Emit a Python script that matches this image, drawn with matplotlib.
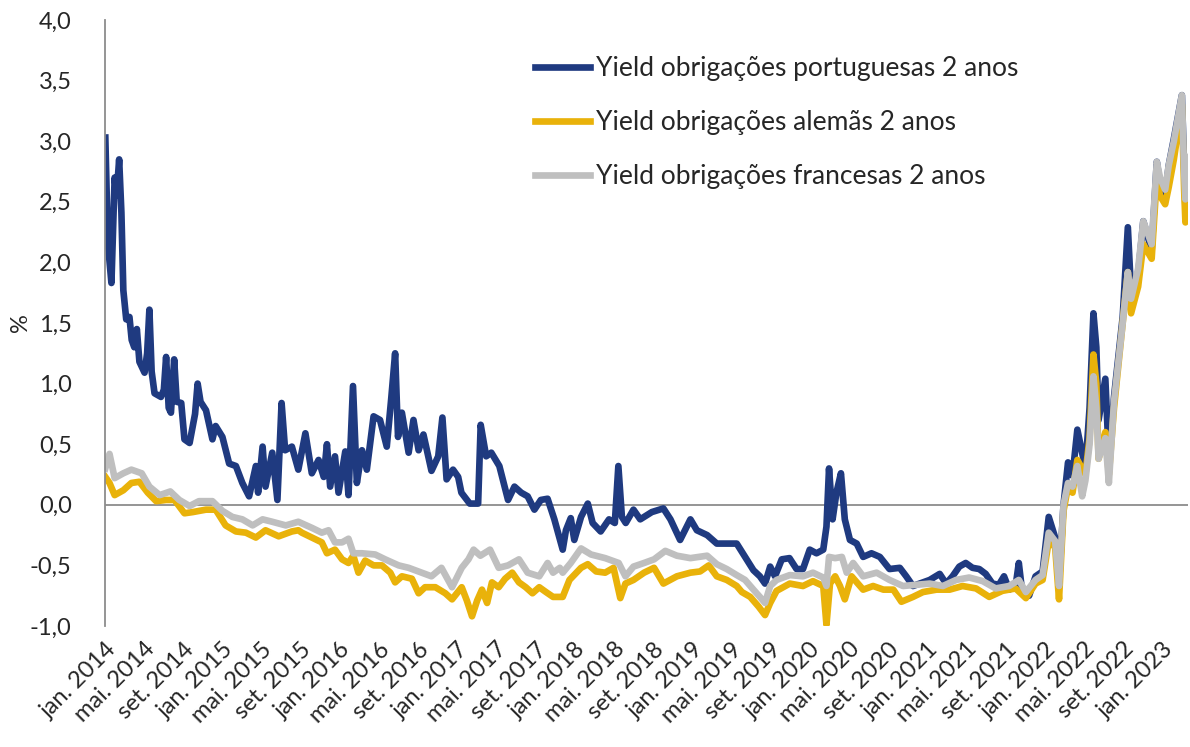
import matplotlib
matplotlib.use('Agg')
import matplotlib.pyplot as plt
from matplotlib.ticker import FuncFormatter
import pandas as pd

# Yield obrigações portuguesas 2 anos
pt_dates = ['2014-01-02', '2014-01-10', '2014-01-21', '2014-01-31', '2014-02-06', '2014-02-14', '2014-02-21',
            '2014-02-27', '2014-03-08', '2014-03-18', '2014-03-25', '2014-04-02', '2014-04-10', '2014-04-18',
            '2014-05-04', '2014-05-12', '2014-05-19', '2014-05-26', '2014-06-04', '2014-06-24', '2014-07-03',
            '2014-07-10', '2014-07-18', '2014-07-25', '2014-08-04', '2014-08-12', '2014-08-26', '2014-09-05',
            '2014-09-21', '2014-10-08', '2014-10-16', '2014-10-25', '2014-11-11', '2014-12-01', '2014-12-11',
            '2015-01-01', '2015-01-22', '2015-02-12', '2015-03-04', '2015-03-25', '2015-04-15', '2015-04-22',
            '2015-05-06', '2015-05-15', '2015-06-05', '2015-06-21', '2015-07-04', '2015-07-15', '2015-08-05',
            '2015-08-25', '2015-09-16', '2015-10-06', '2015-10-27', '2015-11-12', '2015-11-22', '2015-12-02',
            '2015-12-17', '2015-12-28', '2016-01-18', '2016-01-28', '2016-02-11', '2016-02-23', '2016-03-10',
            '2016-03-25', '2016-04-15', '2016-05-05', '2016-05-26', '2016-06-09', '2016-06-21', '2016-06-30',
            '2016-07-12', '2016-08-02', '2016-08-17', '2016-09-02', '2016-09-17', '2016-10-12', '2016-11-02',
            '2016-11-15', '2016-11-28', '2016-12-18', '2017-01-03', '2017-01-13', '2017-02-08', '2017-03-06',
            '2017-03-14', '2017-03-31', '2017-04-16', '2017-05-11', '2017-06-07', '2017-06-27', '2017-07-18',
            '2017-08-07', '2017-08-28', '2017-09-17', '2017-10-08', '2017-10-29', '2017-11-24', '2017-12-04',
            '2017-12-19', '2017-12-30', '2018-01-20', '2018-02-10', '2018-02-25', '2018-03-22', '2018-04-17',
            '2018-05-05', '2018-05-16', '2018-05-27', '2018-06-08', '2018-07-02', '2018-07-23', '2018-08-28',
            '2018-10-03', '2018-10-25', '2018-11-24', '2018-12-26', '2019-01-15', '2019-02-16', '2019-03-18',
            '2019-04-18', '2019-05-19', '2019-06-14', '2019-07-10', '2019-07-30', '2019-08-15', '2019-08-31',
            '2019-09-15', '2019-10-06', '2019-10-30', '2019-11-21', '2019-12-11', '2020-01-01', '2020-01-22',
            '2020-02-12', '2020-02-22', '2020-03-01', '2020-03-12', '2020-03-24', '2020-04-07', '2020-04-19',
            '2020-05-05', '2020-05-26', '2020-06-15', '2020-07-11', '2020-08-06', '2020-09-05', '2020-10-07',
            '2020-10-27', '2020-11-17', '2020-12-08', '2021-01-08', '2021-02-08', '2021-02-28', '2021-03-20',
            '2021-04-10', '2021-04-30', '2021-05-21', '2021-06-11', '2021-07-01', '2021-07-22', '2021-08-11',
            '2021-08-27', '2021-09-12', '2021-10-02', '2021-10-12', '2021-10-23', '2021-11-13', '2021-12-03',
            '2021-12-25', '2022-01-13', '2022-02-02', '2022-02-14', '2022-02-28', '2022-03-14', '2022-03-28',
            '2022-04-12', '2022-05-07', '2022-05-20', '2022-06-01', '2022-06-10', '2022-06-17', '2022-07-08',
            '2022-07-19', '2022-08-04', '2022-08-31', '2022-09-16', '2022-09-26', '2022-10-18', '2022-11-03',
            '2022-11-29', '2022-12-15', '2022-12-25', '2023-01-10', '2023-01-21', '2023-02-06', '2023-03-03',
            '2023-03-10', '2023-03-14', '2023-03-20']
pt_vals = [3.03, 2.16, 1.83, 2.70, 2.55, 2.85, 2.41,
           1.77, 1.53, 1.55, 1.36, 1.30, 1.45, 1.18,
           1.09, 1.25, 1.61, 1.10, 0.92, 0.89, 0.95,
           1.22, 0.80, 0.76, 1.20, 0.85, 0.84, 0.54,
           0.51, 0.75, 1.00, 0.85, 0.78, 0.54, 0.65,
           0.56, 0.34, 0.32, 0.18, 0.07, 0.32, 0.10,
           0.48, 0.15, 0.43, 0.04, 0.84, 0.45, 0.48,
           0.29, 0.59, 0.26, 0.37, 0.23, 0.50, 0.15,
           0.40, 0.10, 0.44, 0.08, 0.98, 0.18, 0.45,
           0.29, 0.73, 0.70, 0.48, 0.88, 1.25, 0.56,
           0.76, 0.43, 0.70, 0.45, 0.58, 0.28, 0.40,
           0.72, 0.21, 0.29, 0.23, 0.10, 0.01, 0.01,
           0.66, 0.40, 0.43, 0.32, 0.04, 0.15, 0.10,
           0.07, -0.04, 0.04, 0.05, -0.12, -0.37, -0.21,
           -0.11, -0.29, -0.10, 0.01, -0.15, -0.22, -0.12,
           -0.15, 0.32, -0.10, -0.15, -0.04, -0.12, -0.06,
           -0.03, -0.12, -0.29, -0.12, -0.21, -0.25, -0.32,
           -0.32, -0.32, -0.43, -0.54, -0.59, -0.65, -0.51,
           -0.59, -0.45, -0.44, -0.53, -0.53, -0.37, -0.40,
           -0.37, -0.18, 0.30, -0.12, 0.10, 0.26, -0.12,
           -0.29, -0.32, -0.43, -0.40, -0.43, -0.53, -0.52,
           -0.59, -0.67, -0.65, -0.62, -0.57, -0.65, -0.59,
           -0.51, -0.48, -0.52, -0.53, -0.57, -0.65, -0.66,
           -0.59, -0.70, -0.67, -0.48, -0.73, -0.75, -0.59,
           -0.55, -0.10, -0.27, -0.65, 0.00, 0.35, 0.24,
           0.62, 0.30, 0.80, 1.58, 1.30, 0.70, 1.04,
           0.38, 0.89, 1.55, 2.29, 1.75, 1.90, 2.34,
           2.10, 2.83, 2.65, 2.55, 2.80, 3.02, 3.38,
           2.80, 2.45, 2.75]

# Yield obrigações alemãs 2 anos
de_dates = ['2014-01-02', '2014-01-15', '2014-01-31', '2014-02-27', '2014-03-24', '2014-04-18', '2014-05-14',
            '2014-06-09', '2014-07-10', '2014-08-05', '2014-09-05', '2014-10-01', '2014-11-11', '2014-12-11',
            '2015-01-11', '2015-02-12', '2015-03-15', '2015-04-15', '2015-05-15', '2015-06-25', '2015-08-05',
            '2015-08-25', '2015-09-05', '2015-10-06', '2015-11-06', '2015-11-22', '2015-12-17', '2016-01-08',
            '2016-01-28', '2016-02-12', '2016-02-28', '2016-03-20', '2016-04-15', '2016-05-11', '2016-06-06',
            '2016-06-21', '2016-07-12', '2016-08-12', '2016-09-02', '2016-09-22', '2016-10-24', '2016-11-24',
            '2016-12-15', '2017-01-14', '2017-01-30', '2017-02-15', '2017-03-03', '2017-03-18', '2017-04-03',
            '2017-04-18', '2017-05-09', '2017-05-29', '2017-06-20', '2017-07-11', '2017-08-01', '2017-08-22',
            '2017-09-12', '2017-10-03', '2017-10-25', '2017-11-24', '2017-12-15', '2018-01-20', '2018-02-10',
            '2018-03-08', '2018-04-05', '2018-05-01', '2018-05-22', '2018-06-07', '2018-07-02', '2018-08-04',
            '2018-09-04', '2018-10-03', '2018-11-14', '2018-12-26', '2019-01-25', '2019-02-21', '2019-03-18',
            '2019-04-18', '2019-05-19', '2019-06-04', '2019-06-30', '2019-07-26', '2019-08-15', '2019-08-31',
            '2019-09-20', '2019-10-31', '2019-12-11', '2020-01-11', '2020-02-12', '2020-02-22', '2020-03-04',
            '2020-03-20', '2020-04-04', '2020-04-19', '2020-05-10', '2020-06-15', '2020-07-16', '2020-08-17',
            '2020-09-17', '2020-10-12', '2020-11-17', '2020-12-18', '2021-01-29', '2021-03-11', '2021-04-20',
            '2021-06-01', '2021-07-12', '2021-08-22', '2021-10-02', '2021-11-03', '2021-12-03', '2021-12-25',
            '2022-01-13', '2022-02-02', '2022-02-14', '2022-02-28', '2022-03-14', '2022-03-28', '2022-04-12',
            '2022-05-07', '2022-05-20', '2022-06-01', '2022-06-10', '2022-06-17', '2022-07-08', '2022-07-19',
            '2022-08-04', '2022-08-31', '2022-09-16', '2022-09-26', '2022-10-18', '2022-11-03', '2022-11-29',
            '2022-12-15', '2022-12-25', '2023-01-10', '2023-01-21', '2023-02-06', '2023-03-03', '2023-03-10',
            '2023-03-14', '2023-03-20']
de_vals = [0.23, 0.18, 0.08, 0.12, 0.18, 0.19, 0.10,
           0.03, 0.04, 0.04, -0.07, -0.06, -0.04, -0.04,
           -0.17, -0.22, -0.23, -0.27, -0.21, -0.26, -0.22,
           -0.21, -0.23, -0.27, -0.31, -0.40, -0.37, -0.45,
           -0.48, -0.42, -0.56, -0.46, -0.50, -0.50, -0.56,
           -0.64, -0.59, -0.61, -0.73, -0.68, -0.68, -0.73,
           -0.78, -0.68, -0.79, -0.92, -0.79, -0.70, -0.81,
           -0.64, -0.68, -0.61, -0.56, -0.64, -0.68, -0.73,
           -0.68, -0.72, -0.76, -0.76, -0.62, -0.52, -0.49,
           -0.55, -0.56, -0.52, -0.77, -0.65, -0.62, -0.56,
           -0.52, -0.65, -0.59, -0.56, -0.55, -0.50, -0.59,
           -0.62, -0.67, -0.72, -0.76, -0.84, -0.91, -0.81,
           -0.71, -0.65, -0.67, -0.63, -0.67, -0.99, -0.65,
           -0.59, -0.67, -0.78, -0.59, -0.70, -0.67, -0.70,
           -0.70, -0.80, -0.76, -0.72, -0.70, -0.70, -0.67,
           -0.69, -0.76, -0.71, -0.69, -0.77, -0.65, -0.62,
           -0.30, -0.35, -0.78, -0.05, 0.15, 0.10, 0.37,
           0.25, 0.55, 1.24, 1.00, 0.38, 0.60, 0.25,
           0.80, 1.50, 1.92, 1.58, 1.80, 2.15, 2.03,
           2.70, 2.55, 2.48, 2.62, 2.85, 3.30, 2.60,
           2.33, 2.45]

# Yield obrigações francesas 2 anos
fr_dates = ['2014-01-02', '2014-01-15', '2014-01-31', '2014-02-27', '2014-03-24', '2014-04-25', '2014-05-19',
            '2014-06-20', '2014-07-23', '2014-08-20', '2014-09-21', '2014-10-20', '2014-12-01', '2015-01-01',
            '2015-02-01', '2015-03-04', '2015-04-05', '2015-05-06', '2015-06-05', '2015-07-17', '2015-08-25',
            '2015-10-06', '2015-11-06', '2015-11-27', '2015-12-17', '2016-01-08', '2016-01-28', '2016-02-12',
            '2016-03-10', '2016-04-20', '2016-05-21', '2016-07-02', '2016-08-02', '2016-09-12', '2016-10-12',
            '2016-11-12', '2016-12-15', '2017-01-14', '2017-02-04', '2017-02-20', '2017-03-13', '2017-04-12',
            '2017-05-09', '2017-06-07', '2017-07-11', '2017-08-07', '2017-09-12', '2017-10-08', '2017-10-25',
            '2017-11-15', '2017-11-24', '2017-12-19', '2018-01-20', '2018-02-20', '2018-04-05', '2018-05-17',
            '2018-06-07', '2018-07-02', '2018-08-04', '2018-09-04', '2018-10-09', '2018-11-14', '2018-12-26',
            '2019-02-16', '2019-03-18', '2019-04-18', '2019-05-19', '2019-06-14', '2019-07-10', '2019-07-30',
            '2019-08-15', '2019-08-31', '2019-09-20', '2019-10-31', '2019-12-11', '2020-01-11', '2020-02-12',
            '2020-02-22', '2020-03-01', '2020-03-20', '2020-04-10', '2020-04-25', '2020-05-15', '2020-06-15',
            '2020-07-27', '2020-09-05', '2020-10-17', '2020-11-28', '2021-01-08', '2021-02-18', '2021-03-31',
            '2021-05-11', '2021-06-22', '2021-08-01', '2021-09-12', '2021-10-12', '2021-11-03', '2021-12-03',
            '2021-12-25', '2022-01-13', '2022-02-02', '2022-02-14', '2022-02-28', '2022-03-14', '2022-03-28',
            '2022-04-12', '2022-04-27', '2022-05-07', '2022-05-20', '2022-06-01', '2022-06-10', '2022-06-17',
            '2022-07-08', '2022-07-19', '2022-08-04', '2022-08-31', '2022-09-16', '2022-09-26', '2022-10-18',
            '2022-11-03', '2022-11-29', '2022-12-15', '2022-12-25', '2023-01-10', '2023-01-21', '2023-02-06',
            '2023-03-03', '2023-03-10', '2023-03-14', '2023-03-20']
fr_vals = [0.30, 0.42, 0.22, 0.26, 0.29, 0.26, 0.15,
           0.08, 0.11, 0.04, -0.01, 0.03, 0.03, -0.05,
           -0.10, -0.12, -0.17, -0.12, -0.14, -0.17, -0.14,
           -0.19, -0.23, -0.21, -0.31, -0.31, -0.28, -0.40,
           -0.40, -0.41, -0.45, -0.50, -0.52, -0.56, -0.59,
           -0.52, -0.68, -0.52, -0.45, -0.37, -0.42, -0.37,
           -0.52, -0.50, -0.45, -0.56, -0.59, -0.48, -0.56,
           -0.52, -0.56, -0.48, -0.36, -0.41, -0.44, -0.48,
           -0.59, -0.51, -0.48, -0.45, -0.38, -0.42, -0.44,
           -0.42, -0.49, -0.53, -0.58, -0.62, -0.70, -0.76,
           -0.81, -0.67, -0.62, -0.58, -0.59, -0.56, -0.60,
           -0.67, -0.43, -0.44, -0.43, -0.56, -0.48, -0.59,
           -0.56, -0.62, -0.67, -0.66, -0.65, -0.67, -0.62,
           -0.60, -0.63, -0.69, -0.67, -0.62, -0.72, -0.62,
           -0.58, -0.23, -0.30, -0.67, 0.00, 0.18, 0.15,
           0.32, 0.07, 0.20, 0.50, 1.06, 0.80, 0.38,
           0.55, 0.18, 0.85, 1.50, 1.92, 1.70, 1.95,
           2.34, 2.15, 2.83, 2.70, 2.60, 2.80, 3.00,
           3.38, 2.75, 2.52, 2.87]

labels = ['Yield obrigações portuguesas 2 anos', 'Yield obrigações alemãs 2 anos',
          'Yield obrigações francesas 2 anos']
colors = ['#1F3A80', '#E9B20A', '#BFBFBF']
month_names = {1: 'jan.', 5: 'mai.', 9: 'set.'}

plt.rcParams['font.family'] = ['Lato', 'DejaVu Sans']
text_color = '#262626'

fig = plt.figure(figsize=(11.9, 7.47), dpi=100)
ax = fig.add_axes([105 / 1190, 1 - 626 / 747, 1083 / 1190, 606 / 747])

series = [(pt_dates, pt_vals), (de_dates, de_vals), (fr_dates, fr_vals)]
for (d, v), lab, c in zip(series, labels, colors):
    ax.plot(pd.to_datetime(d), v, color=c, lw=4.8, label=lab, solid_joinstyle='round')

ax.axhline(0, color='#8C8C8C', lw=1.3, zorder=0)
ax.set_ylim(-1.0, 4.0)
ax.set_xlim(pd.Timestamp('2014-01-01'), pd.Timestamp('2023-03-22'))
ax.set_yticks([-1.0, -0.5, 0.0, 0.5, 1.0, 1.5, 2.0, 2.5, 3.0, 3.5, 4.0])
ax.yaxis.set_major_formatter(FuncFormatter(lambda v, p: f'{v:.1f}'.replace('.', ',')))

ticks = pd.date_range('2014-01-01', '2023-01-01', freq='4MS')
ax.set_xticks(ticks)
ax.set_xticklabels([f'{month_names[t.month]} {t.year}' for t in ticks],
                   rotation=45, ha='right', rotation_mode='anchor')
ax.tick_params(axis='both', length=0, labelsize=17, colors=text_color)
ax.tick_params(axis='y', pad=24)
ax.tick_params(axis='x', pad=9)

for side in ['top', 'right', 'bottom']:
    ax.spines[side].set_visible(False)
ax.spines['left'].set_color('#8C8C8C')
ax.spines['left'].set_linewidth(1.3)

fig.text(20 / 1190, 1 - 323 / 747, '%', rotation=90, fontsize=17, color=text_color,
         ha='center', va='center')

leg = ax.legend(loc='upper left', bbox_to_anchor=(535 / 1190, 1 - 56 / 747),
                bbox_transform=fig.transFigure, frameon=False, fontsize=19,
                handlelength=2.1, handletextpad=0.2, labelspacing=1.1,
                borderpad=0, borderaxespad=0)
for t in leg.get_texts():
    t.set_color(text_color)

fig.savefig('out.png', dpi=100)
